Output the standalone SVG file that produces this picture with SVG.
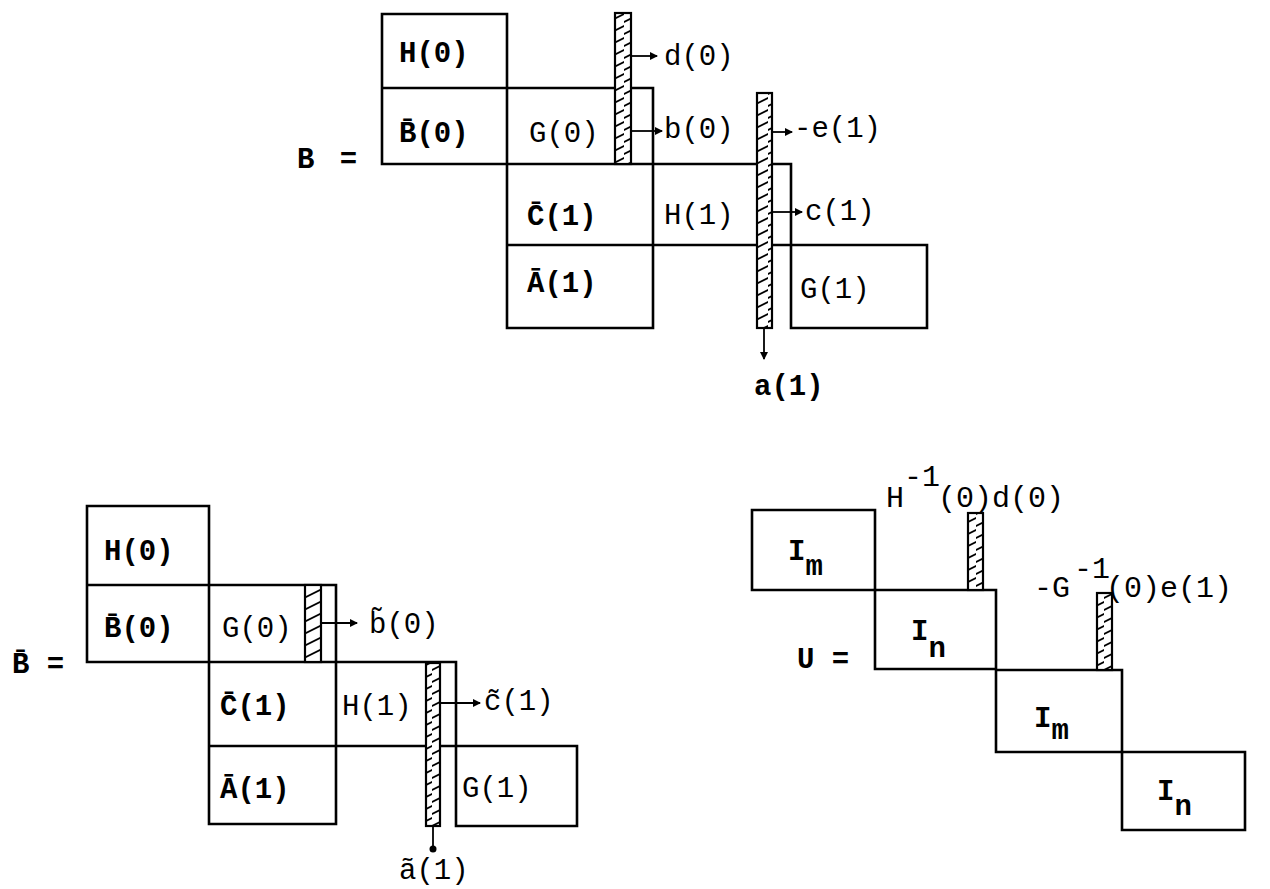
<svg xmlns="http://www.w3.org/2000/svg" width="1270" height="889" viewBox="0 0 1270 889">
<style>
.ln{stroke:#000;stroke-width:2.6;fill:none;stroke-linecap:square}
.bar{stroke:#000;stroke-width:2.2;fill:url(#hatch)}
.ar{stroke:#000;stroke-width:1.8;fill:none;marker-end:url(#ah)}
.t{font-family:"Liberation Mono","DejaVu Sans Mono",monospace;font-size:29px;fill:#000}
.b{font-weight:bold}
.s{font-family:"Liberation Mono","DejaVu Sans Mono",monospace;font-size:30px;fill:#000}
</style>
<defs>
<pattern id="hatch" patternUnits="userSpaceOnUse" width="16" height="12">
<rect width="16" height="12" fill="#fff"/>
<line x1="-2" y1="11" x2="18" y2="1" stroke="#000" stroke-width="1.6"/>
</pattern>
<marker id="ah" markerWidth="8" markerHeight="8" refX="7" refY="4" orient="auto" markerUnits="userSpaceOnUse">
<path d="M0,0 L8,4 L0,8 Z" fill="#000"/>
</marker>
</defs>
<rect width="1270" height="889" fill="#fff"/>

<!-- Top matrix B -->
<g id="matB">
<path class="ln" d="M382,164 V14 H507 V328 H653 V88 M382,88 H653 M382,164 H791 V328 H927 V245 H507 M653,88 V328"/>
<rect class="bar" x="615" y="13" width="16" height="151"/>
<rect class="bar" x="757" y="93" width="15" height="235"/>
<text class="t b" x="399" y="62">H(0)</text>
<text class="t b" x="399" y="142">B̄(0)</text>
<text class="t" x="529" y="142">G(0)</text>
<text class="t b" x="527" y="225">C̄(1)</text>
<text class="t" x="664" y="224">H(1)</text>
<text class="t b" x="527" y="292">Ā(1)</text>
<text class="t" x="800" y="298">G(1)</text>
</g>
<g id="eqB">
<text class="t b" x="297" y="168" letter-spacing="4">B =</text>
</g>
<g id="connB">
<line class="ar" x1="631" y1="56" x2="657" y2="56"/>
<line class="ar" x1="631" y1="131" x2="662" y2="131"/>
<line class="ar" x1="772" y1="132" x2="792" y2="132"/>
<line class="ar" x1="772" y1="212" x2="802" y2="212"/>
<line class="ar" x1="764" y1="328" x2="764" y2="359"/>
</g>
<g id="labB">
<text class="t" x="664" y="65">d(0)</text>
<text class="t" x="664" y="138">b(0)</text>
<text class="t" x="794" y="137">-e(1)</text>
<text class="t" x="805" y="220">c(1)</text>
<text class="t b" x="754" y="395">a(1)</text>
</g>

<!-- Bottom-left matrix B-bar -->
<g id="matBbar">
<path class="ln" d="M87,662 V506 H209 V824 H336 V585 M87,585 H336 M87,662 H456 V826 H577 V746 H209"/>
<rect class="bar" x="305" y="585" width="16" height="77"/>
<rect class="bar" x="426" y="663" width="14" height="163"/>
<text class="t b" x="104" y="560">H(0)</text>
<text class="t b" x="104" y="637">B̄(0)</text>
<text class="t" x="222" y="637">G(0)</text>
<text class="t b" x="220" y="715">C̄(1)</text>
<text class="t" x="342" y="715">H(1)</text>
<text class="t b" x="220" y="798">Ā(1)</text>
<text class="t" x="462" y="797">G(1)</text>
</g>
<g id="eqBbar">
<text class="t b" x="12" y="673">B̄ =</text>
</g>
<g id="connBbar">
<line class="ar" x1="321" y1="623" x2="357" y2="623"/>
<line class="ar" x1="440" y1="703" x2="480" y2="703"/>
<line x1="433" y1="826" x2="433" y2="848" stroke="#000" stroke-width="1.8"/>
<circle cx="433" cy="849" r="3.5" fill="#000"/>
</g>
<g id="labBbar">
<text class="t" x="369" y="633">b̃(0)</text>
<text class="t" x="484" y="710">c̃(1)</text>
<text class="t" x="399" y="879">ã(1)</text>
</g>

<!-- Bottom-right matrix U -->
<g id="matU">
<path class="ln" d="M752,510 H875 V590 H752 Z"/>
<path class="ln" d="M875,590 H996 V669 H875 Z"/>
<path class="ln" d="M996,670 H1122 V752 H996 Z"/>
<path class="ln" d="M1122,752 H1245 V830 H1122 Z"/>
<rect class="bar" x="968" y="513" width="15" height="77"/>
<rect class="bar" x="1097" y="593" width="15" height="77"/>
<text class="t b" x="788" y="560">I<tspan dy="15">m</tspan></text>
<text class="t b" x="911" y="640">I<tspan dy="17">n</tspan></text>
<text class="t b" x="1034" y="727">I<tspan dy="12">m</tspan></text>
<text class="t b" x="1157" y="800">I<tspan dy="15">n</tspan></text>
</g>
<g id="eqU">
<text class="t b" x="797" y="668">U =</text>
</g>
<g id="labU">
<text class="s" x="886" y="507">H</text>
<text class="s" x="904" y="486" font-size="27">-1</text>
<text class="s" x="938" y="507" font-size="28">(0)d(0)</text>
<text class="s" x="1034" y="597" font-size="31">-G</text>
<text class="s" x="1074" y="578" font-size="27">-1</text>
<text class="s" x="1106" y="597" font-size="32">(0)e(1)</text>
</g>
</svg>
